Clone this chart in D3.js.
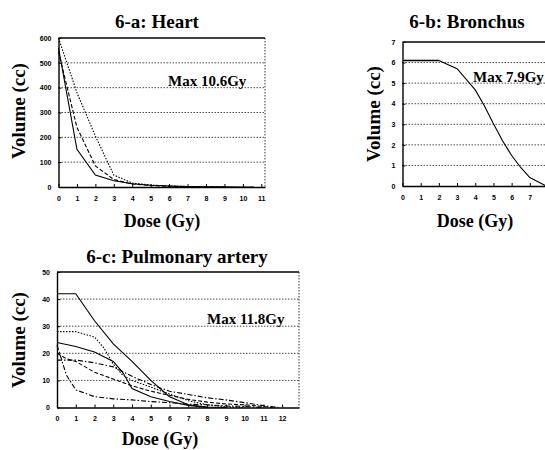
<!DOCTYPE html>
<html>
<head>
<meta charset="utf-8">
<script src="https://cdn.jsdelivr.net/npm/d3@7"></script>
<style>
  body { margin: 0; background: #fff; }
</style>
</head>
<body>
<svg id="chart" width="545" height="450"></svg>
<script>
// ---- data (dose in Gy, volume in cc) ----
var heartSolid  = [[0,560],[1,152],[2,48],[3,25],[4,13],[5,7],[6,4],[7,2],[8,1],[9,0.5],[10,0.2],[10.6,0]];
var heartDashed = [[0,545],[1,240],[2,85],[3,30],[4,12],[5,6],[6,3],[7,1.5],[8,0.5],[9,0]];
var heartDotted = [[0,600],[1,380],[2,205],[3,48],[4,16],[5,8],[6,4],[7,2],[8,1],[9,0]];

var bronchus = [[0,6.1],[1,6.1],[2,6.1],[3,5.7],[4,4.67],[4.5,3.9],[5,3.03],[5.5,2.2],[6,1.48],[6.5,0.9],[7,0.41],[7.9,0]];

var paSolidTop  = [[0,42],[1,42],[2,32],[3,23.5],[4,17],[5,10],[6,4],[7,1],[8,0.2],[9,0]];
var paDotted    = [[0,28],[1,28],[2,26],[2.5,22],[3,16],[3.5,12],[4,10],[5,7.5],[6,5],[7,2.5],[8,1],[9,0.3],[10,0]];
var paSolidLow  = [[0,24],[1,22.5],[2,20.5],[3,17],[3.5,13],[4,7],[5,4],[6,2.2],[7,0.8],[8,0]];
var paDashDot   = [[0,17.5],[1,17.5],[2,16.5],[3,15],[4,11.5],[5,8.5],[6,6],[7,4.8],[8,3.6],[9,2.8],[10,1.8],[11,0.7],[11.8,0]];
var paLongDash  = [[0,20],[0.5,18],[1,17],[2,13],[3,10.5],[4,8],[5,6],[6,4.5],[7,3],[8,2],[9,1.3],[10,1],[11,0.4],[11.5,0]];
var paSteep     = [[0,23],[0.5,12],[1,6.5],[2,4],[3,3.2],[4,2.8],[5,2.2],[6,1.8],[7,1.2],[8,1],[9,0.6],[10,0.4],[11,0]];

var heartXTicks = d3.range(0, 12);
var heartYTicks = [0,100,200,300,400,500,600];
var bronXTicks  = d3.range(0, 8);
var bronYTicks  = [0,1,2,3,4,5,6,7];
var paXTicks    = d3.range(0, 13);
var paYTicks    = [0,10,20,30,40,50];

var serif = '"Liberation Serif", "Times New Roman", "DejaVu Serif", serif';
var sans = '"Liberation Sans Narrow", "Liberation Sans", Arial, sans-serif';

var svg = d3.select('#chart');

function drawPanel(p) {
	var x = d3.scaleLinear().domain(p.xDomain).range([p.left, p.right]);
	var y = d3.scaleLinear().domain(p.yDomain).range([p.bottom, p.top]);
	var g = svg.append('g');

	// dotted grid
	g.selectAll('.grid')
		.data(p.yTicks.filter(v => v > p.yDomain[0] && v < p.yDomain[1]))
		.enter().append('line')
		.attr('x1', p.left).attr('x2', p.right)
		.attr('y1', d => y(d)).attr('y2', d => y(d))
		.attr('stroke', '#222').attr('stroke-width', 0.8)
		.attr('stroke-dasharray', '1.5,1.5');

	// frame: top solid, right dotted
	g.append('line').attr('x1', p.left).attr('x2', p.right)
		.attr('y1', p.top).attr('y2', p.top)
		.attr('stroke', '#000').attr('stroke-width', 1.3);
	g.append('line').attr('x1', p.right).attr('x2', p.right)
		.attr('y1', p.top).attr('y2', p.bottom)
		.attr('stroke', '#000').attr('stroke-width', 0.8)
		.attr('stroke-dasharray', '1.5,1.5');

	var xAxis = g.append('g')
		.attr('transform', `translate(0,${p.bottom})`)
		.call(d3.axisBottom(x).tickValues(p.xTicks).tickFormat(d3.format('d'))
			.tickSize(-3).tickPadding(9).tickSizeOuter(0));
	var yAxis = g.append('g')
		.attr('transform', `translate(${p.left},0)`)
		.call(d3.axisLeft(y).tickValues(p.yTicks).tickFormat(d3.format('d'))
			.tickSize(-3).tickPadding(7).tickSizeOuter(0));
	[xAxis, yAxis].forEach(a => {
		a.select('.domain').attr('stroke', '#000').attr('stroke-width', 1.4);
		a.selectAll('.tick line').attr('stroke', '#000');
		a.selectAll('.tick text')
			.attr('font-family', sans).attr('font-weight', 'bold').attr('font-size', 7);
	});

	var line = d3.line().x(d => x(d[0])).y(d => y(d[1]));
	p.series.forEach(s => {
		g.append('path')
			.datum(s.values)
			.attr('d', line)
			.attr('fill', 'none')
			.attr('stroke', s.color || '#000')
			.attr('stroke-width', s.width || 1.1)
			.attr('stroke-dasharray', s.dash || null);
	});

	g.append('text')
		.attr('x', p.titleX).attr('y', p.titleY)
		.attr('text-anchor', 'middle')
		.attr('font-family', serif).attr('font-weight', 'bold').attr('font-size', 19)
		.text(p.title);
	g.append('text')
		.attr('transform', `translate(${p.yLabelX},${p.yLabelY})rotate(-90)`)
		.attr('text-anchor', 'middle')
		.attr('font-family', serif).attr('font-weight', 'bold').attr('font-size', 19)
		.text('Volume (cc)');
	g.append('text')
		.attr('x', p.xLabelX).attr('y', p.xLabelY)
		.attr('text-anchor', 'middle')
		.attr('font-family', serif).attr('font-weight', 'bold').attr('font-size', 18)
		.text('Dose (Gy)');
	g.append('text')
		.attr('x', p.maxX).attr('y', p.maxY)
		.attr('font-family', serif).attr('font-weight', 'bold').attr('font-size', 15)
		.text(p.maxText);
}

drawPanel({
	title: '6-a: Heart', titleX: 157, titleY: 28,
	left: 58.5, right: 265, top: 38, bottom: 187,
	xDomain: [0, 11.2], yDomain: [0, 600],
	xTicks: heartXTicks, yTicks: heartYTicks,
	yLabelX: 25, yLabelY: 111, xLabelX: 162, xLabelY: 227,
	maxText: 'Max 10.6Gy', maxX: 168, maxY: 86,
	series: [
		{ values: heartSolid },
		{ values: heartDashed, dash: '4,2' },
		{ values: heartDotted, dash: '1.5,1.5' }
	]
});

drawPanel({
	title: '6-b: Bronchus', titleX: 467, titleY: 28,
	left: 402.5, right: 548, top: 42, bottom: 186,
	xDomain: [0, 8], yDomain: [0, 7],
	xTicks: bronXTicks, yTicks: bronYTicks,
	yLabelX: 380, yLabelY: 114, xLabelX: 475, xLabelY: 227,
	maxText: 'Max 7.9Gy', maxX: 473, maxY: 82,
	series: [
		{ values: bronchus.slice(0, 3), color: '#777', width: 2.2 },
		{ values: bronchus }
	]
});

drawPanel({
	title: '6-c: Pulmonary artery', titleX: 177, titleY: 263,
	left: 57, right: 299, top: 272, bottom: 407.5,
	xDomain: [0, 12.9], yDomain: [0, 50],
	xTicks: paXTicks, yTicks: paYTicks,
	yLabelX: 25, yLabelY: 340, xLabelX: 160, xLabelY: 445,
	maxText: 'Max 11.8Gy', maxX: 207, maxY: 324,
	series: [
		{ values: paSolidTop },
		{ values: paDotted, dash: '1.5,1.5' },
		{ values: paSolidLow },
		{ values: paDashDot, dash: '5,2,1.5,2' },
		{ values: paLongDash, dash: '4,2' },
		{ values: paSteep, dash: '5,2,1.5,2' }
	]
});
</script>
</body>
</html>
